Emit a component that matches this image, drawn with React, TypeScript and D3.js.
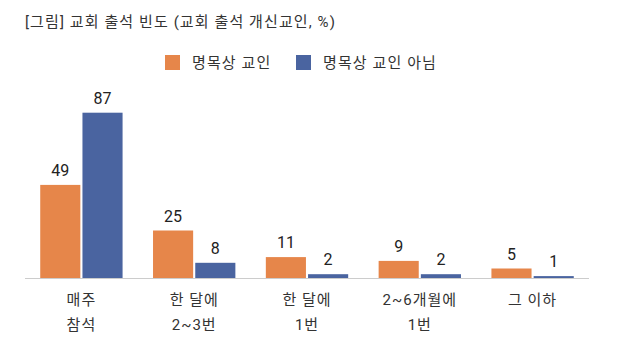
import React from 'react'
import * as d3 from 'd3'

const categories = [['매주', '참석'], ['한 달에', '2~3번'], ['한 달에', '1번'], ['2~6개월에', '1번'], ['그 이하']]
const seriesNames = ['명목상 교인', '명목상 교인 아님']
const nominal = [49, 25, 11, 9, 5]
const notNominal = [87, 8, 2, 2, 1]
const COLORS = ['#E6864A', '#4A64A0']

const WIDTH = 632
const HEIGHT = 360
const MARGIN = { top: 88, right: 43, bottom: 82, left: 25 }
const FONT = "Roboto, 'Noto Sans CJK KR', sans-serif"

export default function App() {
  const baseline = HEIGHT - MARGIN.bottom

  const x = d3.scaleBand<number>()
    .domain(d3.range(categories.length))
    .range([MARGIN.left, WIDTH - MARGIN.right])
    .paddingInner(0.27)
    .paddingOuter(0.135)

  const xSub = d3.scaleBand<number>()
    .domain([0, 1])
    .range([0, x.bandwidth()])
    .paddingInner(0.05)

  const y = d3.scaleLinear().domain([0, 100]).range([baseline, baseline - 190])

  const series = [nominal, notNominal]

  return (
    <svg width={WIDTH} height={HEIGHT} style={{ position: 'absolute', left: 0, top: 0, background: '#fff' }} fontFamily={FONT}>
      <text x={25} y={27} fontSize={15} letterSpacing={1.1} fill="#333">[그림] 교회 출석 빈도 (교회 출석 개신교인, %)</text>

      {/* legend */}
      <g fontSize={15} letterSpacing={1.1} fill="#333">
        <rect x={165} y={55} width={15} height={15} fill={COLORS[0]} />
        <text x={192} y={68}>{seriesNames[0]}</text>
        <rect x={296} y={55} width={15} height={15} fill={COLORS[1]} />
        <text x={323} y={68}>{seriesNames[1]}</text>
      </g>

      {series.map((vals, s) => (
        <g key={s}>
          {vals.map((v, i) => {
            const bx = (x(i) ?? 0) + (xSub(s) ?? 0)
            return (
              <g key={i}>
                <rect x={bx} y={y(v)} width={xSub.bandwidth()} height={baseline - y(v)} fill={COLORS[s]} />
                <text x={bx + xSub.bandwidth() / 2} y={y(v) - 9} textAnchor="middle" fontSize={16} fill="#222">{v}</text>
              </g>
            )
          })}
        </g>
      ))}

      <line x1={MARGIN.left} x2={WIDTH - MARGIN.right} y1={baseline + 0.5} y2={baseline + 0.5} stroke="#ccc" strokeWidth={1} />

      {categories.map((lines, i) => (
        <text key={i} x={(x(i) ?? 0) + x.bandwidth() / 2} textAnchor="middle" fontSize={15} letterSpacing={1} fill="#333">
          {lines.map((l, j) => (
            <tspan key={j} x={(x(i) ?? 0) + x.bandwidth() / 2} y={305 + j * 25}>{l}</tspan>
          ))}
        </text>
      ))}
    </svg>
  )
}
